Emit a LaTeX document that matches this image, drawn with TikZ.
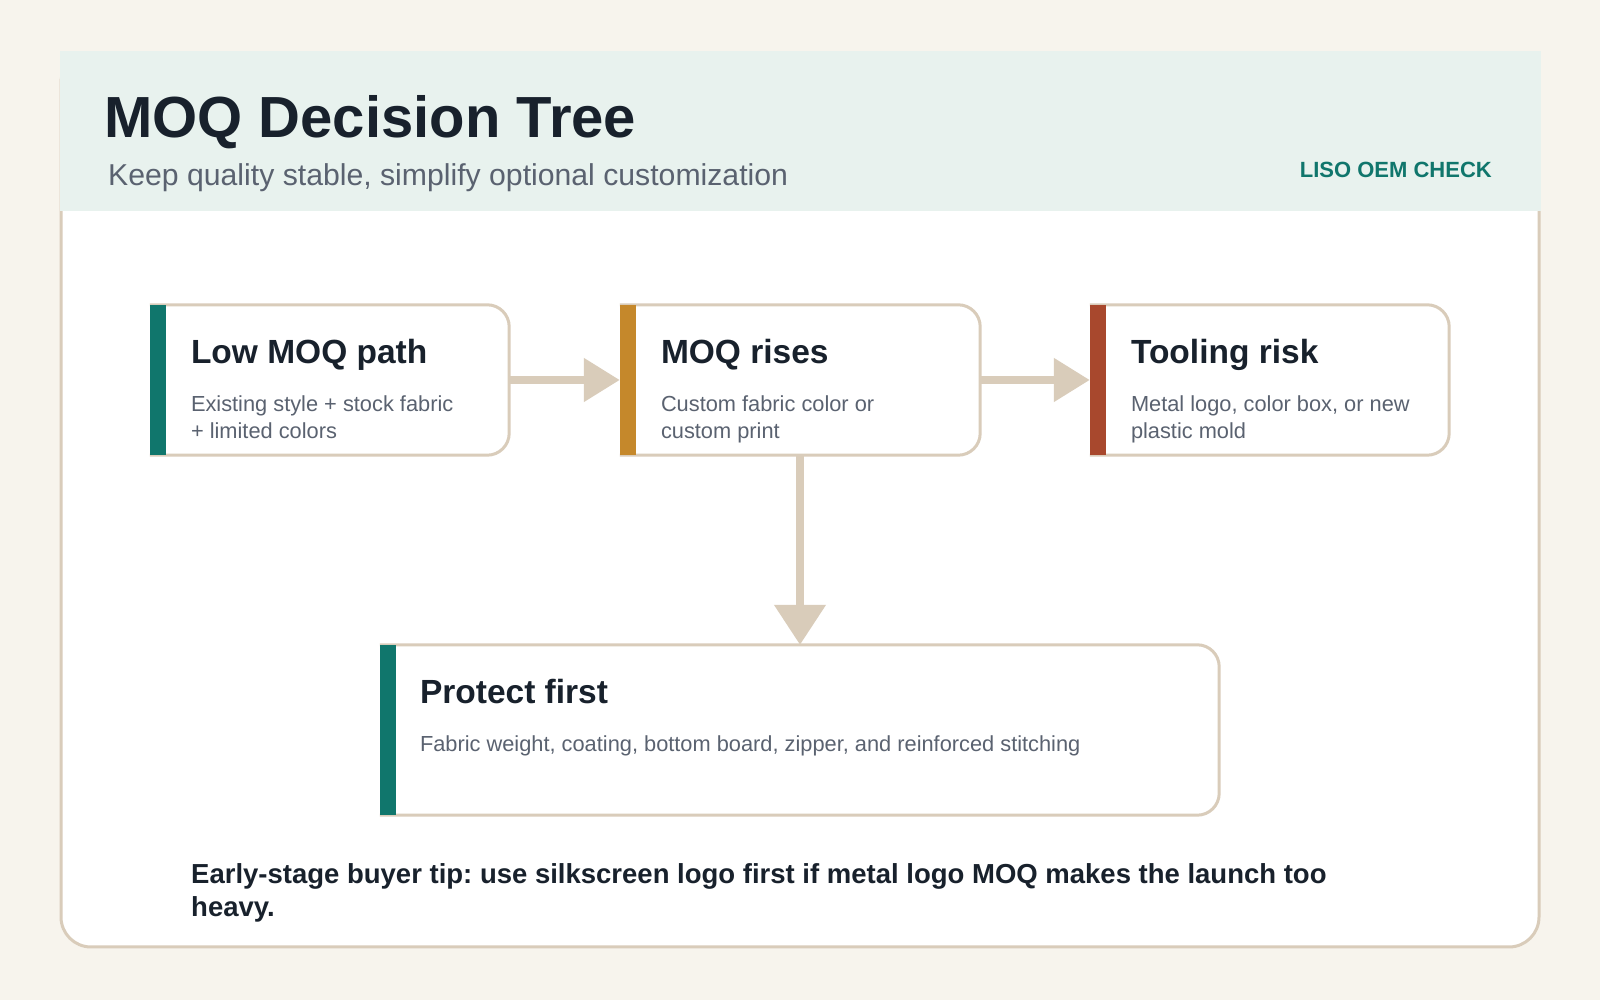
\documentclass[tikz,border=0pt]{standalone}
\usepackage{fontspec}
\setmainfont{Liberation Sans}
\usetikzlibrary{arrows.meta}
\frenchspacing
\definecolor{bg}{HTML}{F7F4ED}
\definecolor{beige}{HTML}{D9CCBA}
\definecolor{headfill}{HTML}{E8F2EE}
\definecolor{ink}{HTML}{18212C}
\definecolor{muted}{HTML}{5A6270}
\definecolor{tealc}{HTML}{10766C}
\definecolor{mustard}{HTML}{C5882B}
\definecolor{rust}{HTML}{A8482D}
\newcommand\boxborder[1]{\draw[boxline] (#1.north west) -- ([xshift=-22]#1.north east) arc[start angle=90,end angle=0,radius=22] -- ([yshift=22]#1.south east) arc[start angle=0,end angle=-90,radius=22] -- (#1.south west);}
\begin{document}
\frenchspacing
\begin{tikzpicture}[x=1pt,y=1pt,
  boxline/.style={draw=beige,line width=3pt},
  card/.style={draw=beige,line width=3pt,fill=white,rounded corners=30pt,minimum width=1478pt,minimum height=894pt,inner sep=0pt},
  stepbox/.style={minimum height=150pt,inner sep=0pt,draw=none},
  btitle/.style={anchor=base west,inner sep=0pt,text=ink,font=\fontsize{33.5}{40}\selectfont\bfseries},
  bbody/.style={anchor=base west,inner sep=0pt,text=muted,align=left,font=\fontsize{21.8}{27}\selectfont\frenchspacing},
  conn/.style={draw=beige,line width=8pt,-{Triangle[length=36pt,width=42pt]}},
  vconn/.style={draw=beige,line width=8pt,-{Triangle[length=40pt,width=50pt]}}
]
\fill[bg] (0,0) rectangle (1600,1000);
\useasboundingbox (0,0) rectangle (1600,1000);
\node[card] (card) at (800,500) {};
\fill[headfill] (59.5,789) rectangle (1540.5,948.5);
\node[anchor=base west,inner sep=0pt,text=ink,font=\fontsize{58}{64}\selectfont\bfseries] (title) at (104,862) {MOQ Decision Tree};
\node[anchor=base west,inner sep=0pt,text=muted,font=\fontsize{30.2}{34}\selectfont\frenchspacing] (subtitle) at (108,814) {Keep quality stable, simplify optional customization};
\node[anchor=base east,inner sep=0pt,text=tealc,font=\fontsize{22}{26}\selectfont\bfseries] (brand) at (1492,822) {LISO OEM CHECK};

\node[stepbox,minimum width=359pt] (b1) at (329.5,620) {};
\node[stepbox,minimum width=360pt] (b2) at (800,620) {};
\node[stepbox,minimum width=359pt] (b3) at (1269.5,620) {};
\node[stepbox,minimum width=839pt,minimum height=170pt] (b4) at (799.5,270) {};

\boxborder{b1}
\boxborder{b2}
\boxborder{b3}
\boxborder{b4}
\fill[tealc] (b1.north west) rectangle ([xshift=16pt]b1.south west);
\fill[mustard] (b2.north west) rectangle ([xshift=16pt]b2.south west);
\fill[rust] (b3.north west) rectangle ([xshift=16pt]b3.south west);
\fill[tealc] (b4.north west) rectangle ([xshift=16pt]b4.south west);

\node[btitle] (b1t) at ([xshift=41pt,yshift=-59pt]b1.north west) {Low MOQ path};
\node[bbody] (b1b) at ([xshift=41pt,yshift=-134pt]b1.north west) {Existing style + stock fabric\\+ limited colors};
\node[btitle] (b2t) at ([xshift=41pt,yshift=-59pt]b2.north west) {MOQ rises};
\node[bbody] (b2b) at ([xshift=41pt,yshift=-134pt]b2.north west) {Custom fabric color or\\custom print};
\node[btitle] (b3t) at ([xshift=41pt,yshift=-59pt]b3.north west) {Tooling risk};
\node[bbody] (b3b) at ([xshift=41pt,yshift=-134pt]b3.north west) {Metal logo, color box, or new\\plastic mold};
\node[btitle] (b4t) at ([xshift=40pt,yshift=-59pt]b4.north west) {Protect first};
\node[bbody] (b4b) at ([xshift=40pt,yshift=-107pt]b4.north west) {Fabric weight, coating, bottom board, zipper, and reinforced stitching};

\draw[conn] (b1.east) -- (b2.west);
\draw[conn] (b2.east) -- (b3.west);
\draw[vconn] (b2.south) -- (b2.south |- b4.north);

\node[anchor=base west,inner sep=0pt,text=ink,align=left,font=\fontsize{27.5}{33}\selectfont\bfseries\frenchspacing] (tip) at (191,83) {Early-stage buyer tip: use silkscreen logo first if metal logo MOQ makes the launch too\\heavy.};
\end{tikzpicture}
\end{document}
